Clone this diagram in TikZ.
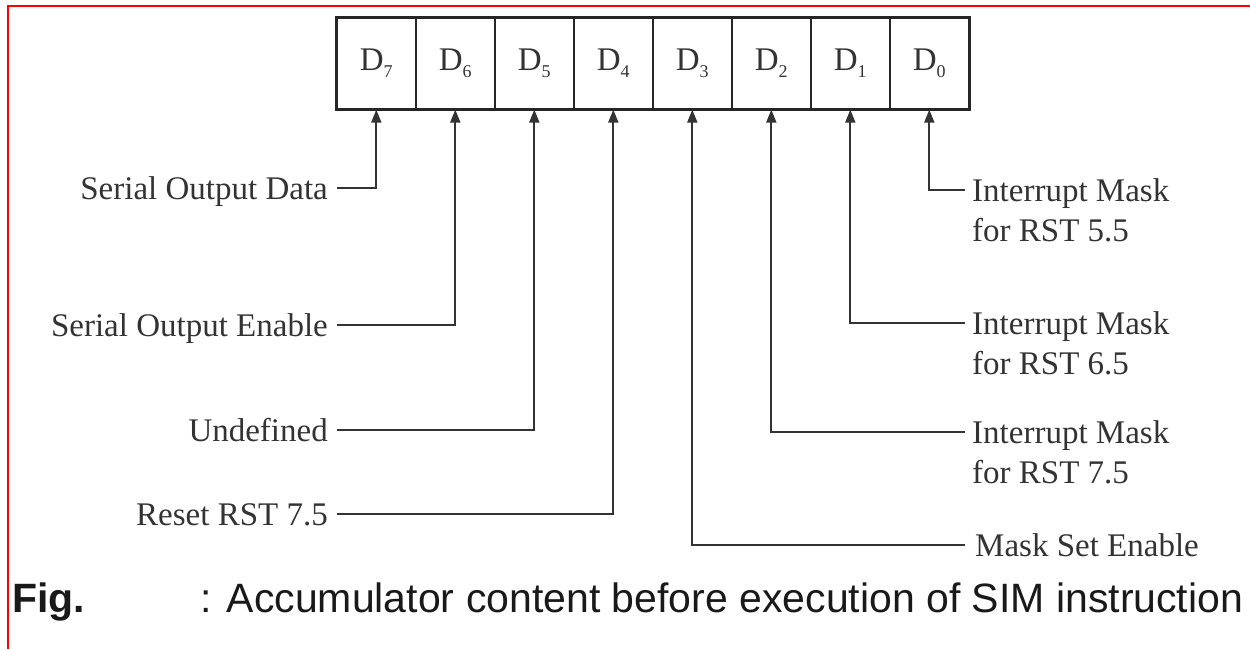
\documentclass[tikz,border=0pt]{standalone}
\usepackage{fontspec}
\setmainfont{Liberation Serif}
\newfontfamily\capfont{Liberation Sans}
\usetikzlibrary{arrows.meta}
% subscript digit of a register bit
\newcommand{\bitsub}[1]{\raisebox{-0.22em}{\fontsize{18}{18}\selectfont #1}}
\begin{document}
\begin{tikzpicture}[x=1pt,y=-1pt,
  cell/.style={draw=black!85,line width=1.6pt,minimum width=79pt,minimum height=91pt,
    inner sep=0pt,anchor=north west,font=\fontsize{33}{33}\selectfont,text=black!80},
  conn/.style={draw=black!80,line width=1.8pt,-{Triangle[width=10pt,length=13pt]}},
  llabel/.style={anchor=base east,inner sep=0pt,font=\fontsize{33}{40}\selectfont,text=black!80},
  rlabel/.style={anchor=north west,inner sep=0pt,align=left,font=\fontsize{33}{40}\selectfont,text=black!80},
  captext/.style={anchor=base west,inner sep=0pt,font=\capfont\fontsize{41}{48}\selectfont,text=black!90},
]
\useasboundingbox (0,0) rectangle (1250,649);

% frame
\draw[red,line width=2.5pt] (8,649) -- (8,6) -- (1250,6);

% accumulator bits D7 ... D0
\foreach \i/\k in {7/0,6/1,5/2,4/3,3/4,2/5,1/6,0/7}
  \node[cell] (d\i) at (336+79*\k,17) {D\bitsub{\i}};
\draw[black!85,line width=2.6pt] (d7.north west) rectangle (d0.south east);

% labels on the left
\node[llabel] (l7) at (328,199) {Serial Output Data};
\node[llabel] (l6) at (328,336) {Serial Output Enable};
\node[llabel] (l5) at (328,441) {Undefined};
\node[llabel] (l4) at (328,525) {Reset RST 7.5};

\draw[conn] ([xshift=9pt,yshift=11pt]l7.base east) -| (d7.south);
\draw[conn] ([xshift=9pt,yshift=11pt]l6.base east) -| (d6.south);
\draw[conn] ([xshift=9pt,yshift=11pt]l5.base east) -| (d5.south);
\draw[conn] ([xshift=9pt,yshift=11pt]l4.base east) -| (d4.south);

% labels on the right
\node[rlabel] (r0) at (972,178.5) {Interrupt Mask\\for RST 5.5};
\node[rlabel] (r1) at (972,311.5) {Interrupt Mask\\for RST 6.5};
\node[rlabel] (r2) at (972,420.5) {Interrupt Mask\\for RST 7.5};
\node[rlabel] (r3) at (975,533.5) {Mask Set Enable};

\draw[conn] ([xshift=-7pt,yshift=-11.5pt]r0.north west) -| (d0.south);
\draw[conn] ([xshift=-7pt,yshift=-11.5pt]r1.north west) -| (d1.south);
\draw[conn] ([xshift=-7pt,yshift=-11.5pt]r2.north west) -| (d2.south);
\draw[conn] ([xshift=-10pt,yshift=-11.5pt]r3.north west) -| (d3.south);

% caption
\node[captext,font=\capfont\bfseries\fontsize{41}{48}\selectfont] (fig) at (12,612) {Fig.};
\node[captext] (cap) at (200,612) {: Accumulator content before execution of SIM instruction};
\end{tikzpicture}
\end{document}
